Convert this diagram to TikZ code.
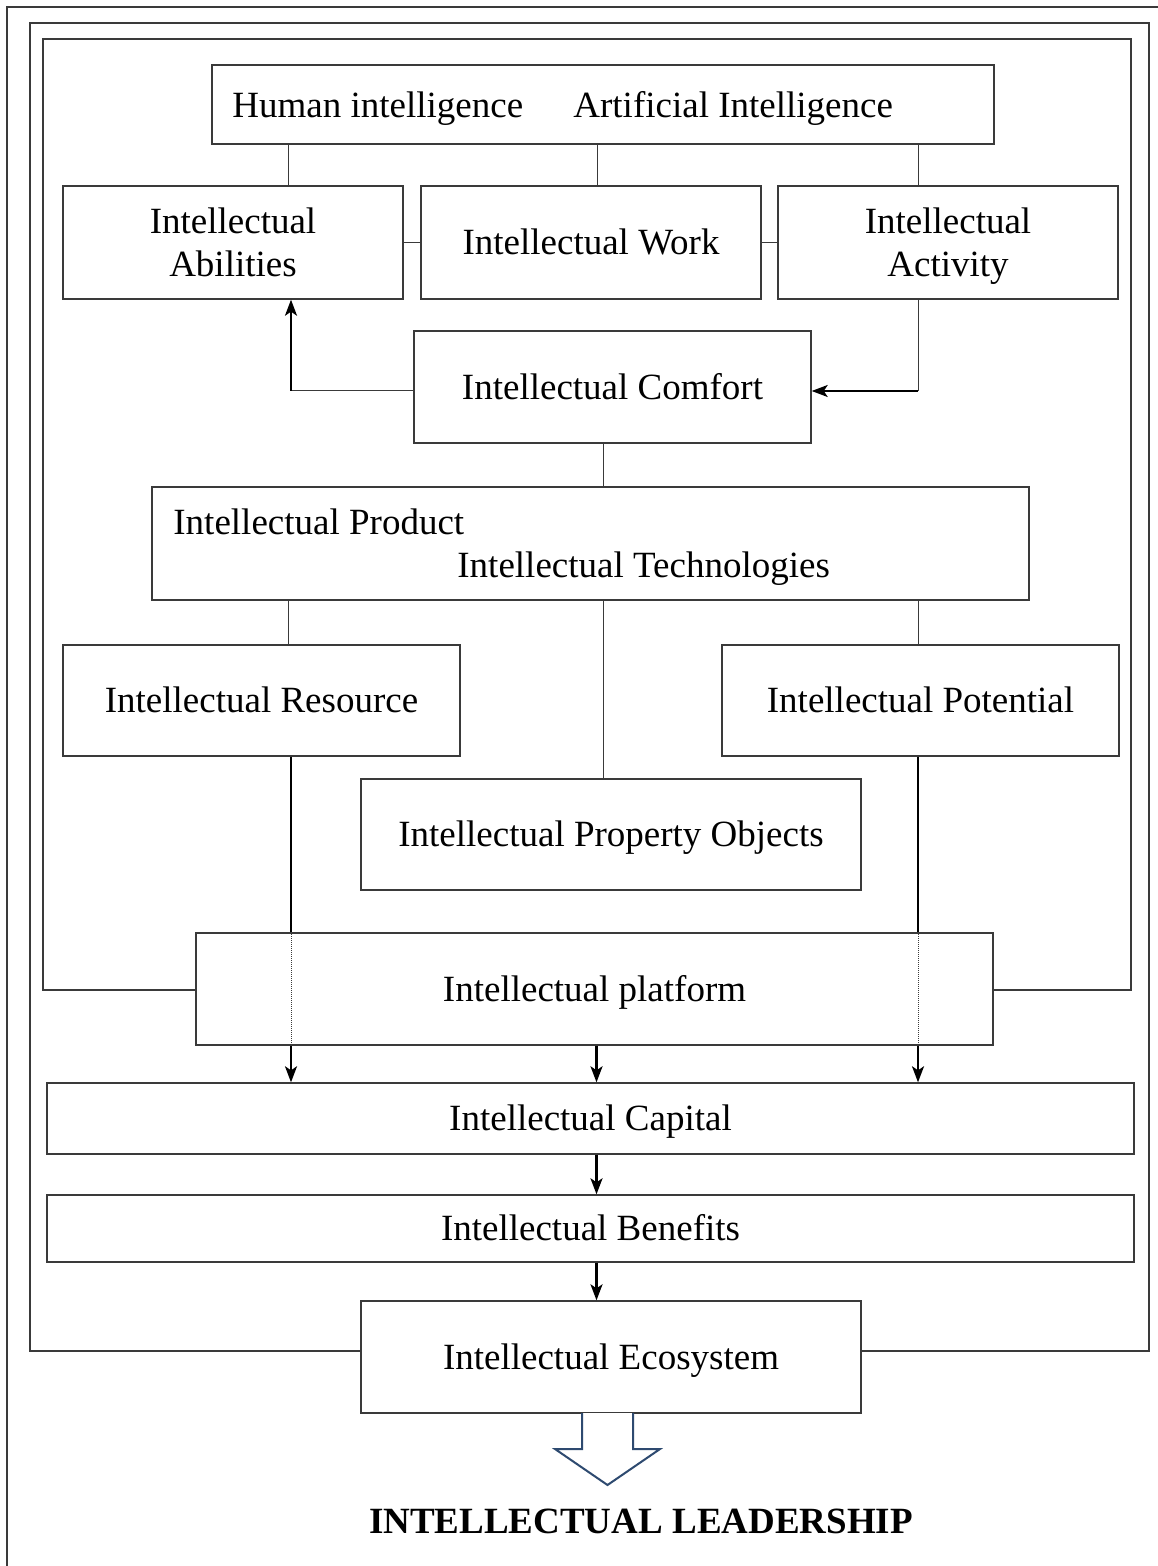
\documentclass[tikz,border=0pt]{standalone}
\usepackage{fontspec}
\setmainfont{Liberation Serif}
\usetikzlibrary{arrows.meta}
\definecolor{linegray}{HTML}{3A3A3A}
\definecolor{arrowblue}{HTML}{2E4A70}
\begin{document}
\begin{tikzpicture}[x=0.5pt,y=-0.5pt,
  txtfont/.style={font=\fontsize{18.5}{21.5}\selectfont},
  box/.style={draw=linegray, line width=0.7pt, rectangle, inner sep=2pt, align=center, txtfont},
  onebox/.style={box, text height=12.3pt, text depth=0pt},
  twobox/.style={box, text height=33.8pt, text depth=0pt},
  lbl/.style={inner sep=0pt, txtfont},
  link/.style={draw=linegray, line width=0.5pt},
  heavy/.style={draw=black, line width=0.8pt},
  arr/.style={draw=black, line width=1.1pt, -{Stealth[length=8pt,width=6pt,inset=2pt]}},
  border/.style={draw=linegray, line width=0.7pt},
  dots/.style={draw=linegray, line width=0.4pt, dash pattern=on 0.5pt off 0.5pt},
]
% page area
\fill[white] (0,0) rectangle (1157,1566);
\useasboundingbox (0,0) rectangle (1157,1566);

% boxes
\node[box, minimum width=391pt, minimum height=39.5pt] (hiai) at (603,104.5) {};
\node[lbl, anchor=base west] (hum) at (232,118) {Human intelligence};
\node[lbl, anchor=base west] (art) at (573,118) {Artificial Intelligence};

\node[twobox, minimum width=170pt, minimum height=56.5pt] (abil) at (233,242.5) {Intellectual\\Abilities};
\node[onebox, minimum width=170pt, minimum height=56.5pt] (work) at (591,242.5) {Intellectual Work};
\node[twobox, minimum width=170pt, minimum height=56.5pt] (activ) at (948,242.5) {Intellectual\\Activity};

\node[onebox, minimum width=198.5pt, minimum height=56pt] (comfort) at (612.5,387) {Intellectual Comfort};

\node[box, minimum width=438.5pt, minimum height=56.5pt] (product) at (590.5,543.5) {};
\node[lbl, anchor=base west] (iprod) at (173,535) {Intellectual Product};
\node[lbl, anchor=base west] (itech) at (457,577) {Intellectual Technologies};

\node[onebox, minimum width=198.5pt, minimum height=55.5pt] (resource) at (261.5,700.5) {Intellectual Resource};
\node[onebox, minimum width=198.5pt, minimum height=55.5pt] (potential) at (920.5,700.5) {Intellectual Potential};
\node[onebox, minimum width=250pt, minimum height=55.5pt] (ipo) at (611,834.5) {Intellectual Property Objects};

\node[onebox, minimum width=398.5pt, minimum height=56pt] (platform) at (594.5,989) {Intellectual platform};
\node[onebox, minimum width=543.5pt, minimum height=35.5pt] (capital) at (590.5,1118.5) {Intellectual Capital};
\node[onebox, minimum width=543.5pt, minimum height=33.5pt] (benefits) at (590.5,1228.5) {Intellectual Benefits};
\node[onebox, minimum width=250pt, minimum height=56pt] (eco) at (611,1357) {Intellectual Ecosystem};

% helper coordinates for connector columns and rows
\coordinate (xA) at (288,0);
\coordinate (xB) at (597,0);
\coordinate (xC) at (918,0);
\coordinate (xD) at (603,0);
\coordinate (xE) at (291,0);
\coordinate (xF) at (596.5,0);
\coordinate (kL) at (291,391);
\coordinate (kR) at (918,391);
\coordinate (pf) at (0,990);
\coordinate (ef) at (0,1351);

% nested frames
\draw[border] (7,1570) -- (7,7) -- (1160,7);
\draw[border] (eco.west |- ef) -- (30,1351) -- (30,23) -- (1149,23) -- (1149,1351) -- (eco.east |- ef);
\draw[border] (platform.west |- pf) -- (43,990) -- (43,39) -- (1131,39) -- (1131,990) -- (platform.east |- pf);

% upper links
\draw[link] (hiai.south -| xA) -- (abil.north -| xA);
\draw[link] (hiai.south -| xB) -- (work.north -| xB);
\draw[link] (hiai.south -| xC) -- (activ.north -| xC);
\draw[link] (abil.east) -- (work.west);
\draw[link] (work.east) -- (activ.west);

% comfort feedback arrows
\draw[link] (comfort.west |- kL) -- (kL);
\draw[arr] (kL) -- (abil.south -| kL);
\draw[link] (activ.south -| kR) -- (kR);
\draw[arr] (kR) -- (comfort.east |- kR);

% middle links
\draw[link] (comfort.south -| xD) -- (product.north -| xD);
\draw[link] (product.south -| xA) -- (resource.north -| xA);
\draw[link] (product.south -| xD) -- (ipo.north -| xD);
\draw[link] (product.south -| xC) -- (potential.north -| xC);

% lines through the platform to the capital
\draw[heavy] (resource.south -| xE) -- (platform.north -| xE);
\draw[dots] (platform.north -| xE) -- (platform.south -| xE);
\draw[arr] (platform.south -| xE) -- (capital.north -| xE);
\draw[heavy] (potential.south -| xC) -- (platform.north -| xC);
\draw[dots] (platform.north -| xC) -- (platform.south -| xC);
\draw[arr] (platform.south -| xC) -- (capital.north -| xC);

% central chain
\draw[arr] (platform.south -| xF) -- (capital.north -| xF);
\draw[arr] (capital.south -| xF) -- (benefits.north -| xF);
\draw[arr] (benefits.south -| xF) -- (eco.north -| xF);

% hollow block arrow and conclusion
\draw[draw=arrowblue, line width=1pt, line join=miter, fill=white]
  (582,1413) -- (582,1449) -- (555,1449) -- (607.5,1485) -- (660,1449) -- (633,1449) -- (633,1413);
\node[inner sep=0pt, font=\fontsize{18.5}{21.5}\selectfont\bfseries, anchor=base] (lead) at (641,1533) {INTELLECTUAL LEADERSHIP};
\end{tikzpicture}
\end{document}
